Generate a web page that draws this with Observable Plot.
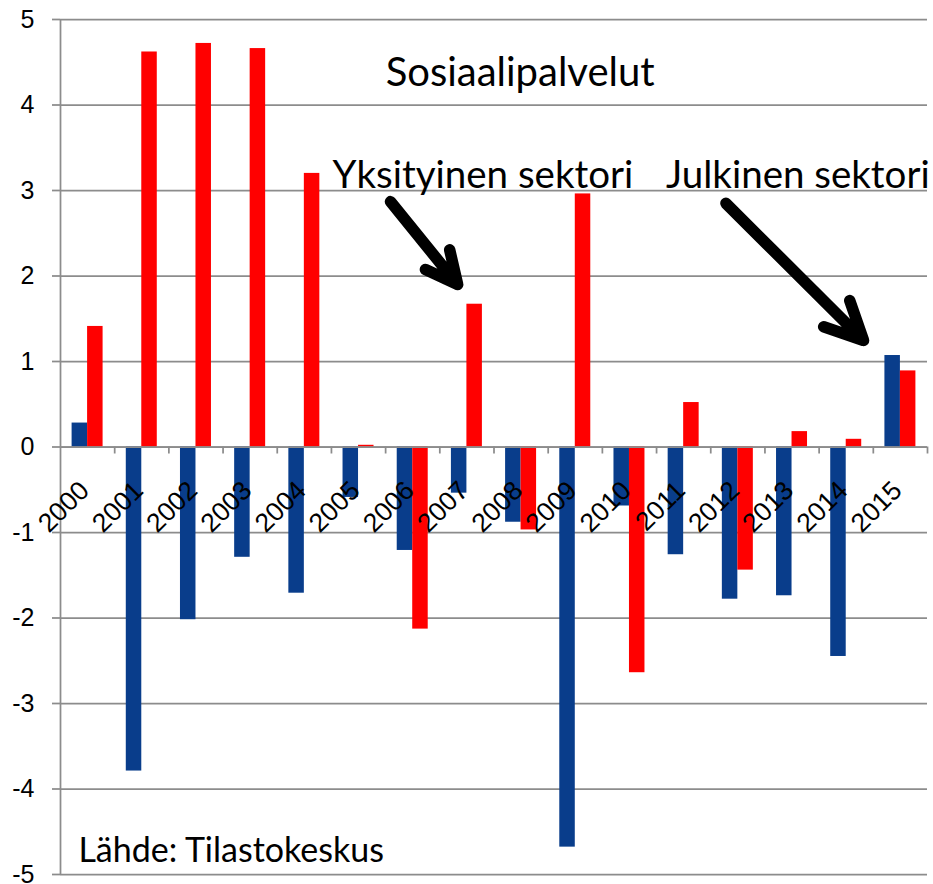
<!DOCTYPE html>
<html><head><meta charset="utf-8">
<script src="https://cdn.jsdelivr.net/npm/d3@7"></script>
<script src="https://cdn.jsdelivr.net/npm/@observablehq/plot@0.6"></script>
<style>html,body{margin:0;padding:0;background:#fff} svg{display:block}</style>
</head><body><div id="chart"></div>
<script>
// Data
const years = [2000,2001,2002,2003,2004,2005,2006,2007,2008,2009,2010,2011,2012,2013,2014,2015];
const julkinen = [0.28,-3.79,-2.02,-1.29,-1.71,-0.59,-1.21,-0.54,-0.88,-4.68,-0.69,-1.26,-1.78,-1.74,-2.45,1.07];
const yksityinen = [1.41,4.62,4.72,4.66,3.20,0.02,-2.13,1.67,-0.97,2.96,-2.64,0.52,-1.44,0.18,0.09,0.89];
const seriesNames = ["Julkinen sektori","Yksityinen sektori"];
const yTicks = [-5,-4,-3,-2,-1,0,1,2,3,4,5];
const title = "Sosiaalipalvelut";
const source = "Lähde: Tilastokeskus";

const rows = years.flatMap((y, i) => [
  {year: y, series: seriesNames[0], value: julkinen[i]},
  {year: y, series: seriesNames[1], value: yksityinen[i]}
]);
const boundaries = years.map(y => y + 0.5);
const BAR = 0.286; // bar width as fraction of one year slot
const GRID = "#8c8c8c";
const calibri = "Lato, 'Open Sans', sans-serif";

const chart = Plot.plot({
  width: 933, height: 884,
  marginLeft: 60, marginRight: 6, marginTop: 19, marginBottom: 10,
  x: {domain: [years[0] - 0.5, years[years.length - 1] + 0.5], axis: null},
  y: {domain: [-5, 5], axis: null},
  color: {domain: seriesNames, range: ["#093d8b", "#ff0000"]},
  style: {fontFamily: "'Liberation Sans', Arial, sans-serif", background: "#fff", color: "#000"},
  marks: [
    Plot.gridY(yTicks, {stroke: GRID, strokeOpacity: 1, strokeWidth: 1.75}),
    Plot.axisY(yTicks, {tickSize: 8, tickPadding: 18, tickFormat: d => String(d), fontSize: 25, stroke: GRID, strokeWidth: 1.75, label: null}),
    Plot.ruleX([years[0] - 0.5], {stroke: GRID, strokeWidth: 1.75}),
    Plot.rect(rows, {
      x1: d => d.series === seriesNames[0] ? d.year - BAR : d.year,
      x2: d => d.series === seriesNames[0] ? d.year : d.year + BAR,
      y1: 0, y2: "value", fill: "series"
    }),
    Plot.ruleY([0], {stroke: GRID, strokeWidth: 1.75}),
    Plot.ruleX(boundaries, {x: d => d, y1: 0, y2: 0, insetBottom: -7, stroke: GRID, strokeWidth: 1.75}),
    Plot.text(years, {x: d => d, y: 0, text: d => String(d), rotate: -45, textAnchor: "end", dx: -3, dy: 39, fontSize: 26.5, fill: "#000"}),
    Plot.text([title], {x: 2005.5, y: 4.22, text: d => d, textAnchor: "start", lineAnchor: "bottom", fontFamily: calibri, fontSize: 40, fill: "#000"}),
    Plot.text([seriesNames[1]], {x: 2004.52, y: 3.03, text: d => d, textAnchor: "start", lineAnchor: "bottom", fontFamily: calibri, fontSize: 38.5, fill: "#000"}),
    Plot.text([seriesNames[0]], {x: 2015.54, y: 3.03, text: d => d, textAnchor: "end", lineAnchor: "bottom", fontFamily: calibri, fontSize: 38.5, fill: "#000"}),
    Plot.text([source], {x: 1999.83, y: -4.85, text: d => d, textAnchor: "start", lineAnchor: "bottom", fontFamily: calibri, fontSize: 34, fill: "#000"}),
    Plot.arrow([0], {x1: 2005.59, y1: 2.87, x2: 2006.83, y2: 1.9, stroke: "#000", strokeWidth: 11.5, headLength: 5.5, headAngle: 52, strokeLinecap: "round"}),
    Plot.arrow([0], {x1: 2011.78, y1: 2.85, x2: 2014.32, y2: 1.246, stroke: "#000", strokeWidth: 11.5, headLength: 5.5, headAngle: 52, strokeLinecap: "round"})
  ]
});
document.getElementById("chart").append(chart);
</script>
</body></html>
